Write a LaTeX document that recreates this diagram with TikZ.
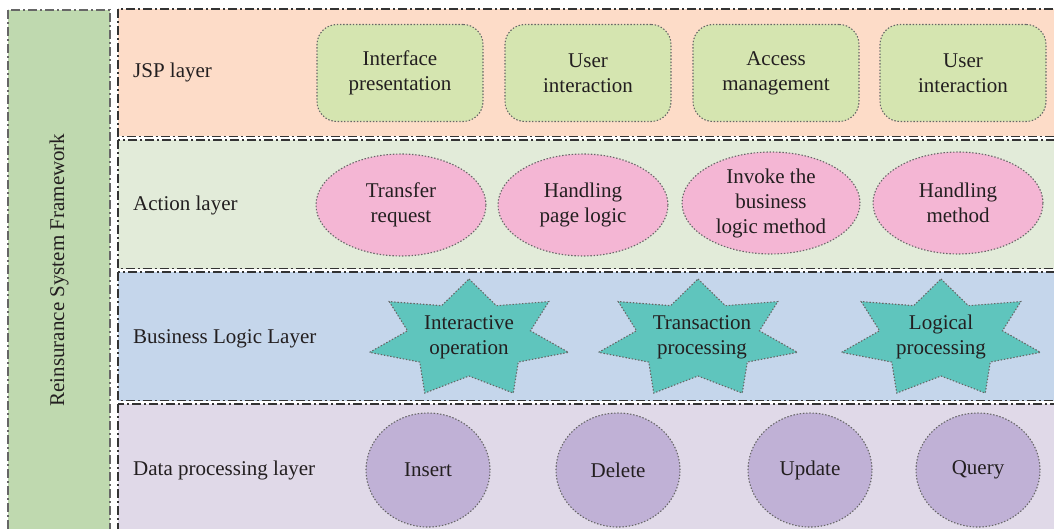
\documentclass[tikz,border=0pt]{standalone}
\usepackage{fontspec}
\setmainfont{Liberation Serif}
\usetikzlibrary{calc}
\definecolor{txt}{HTML}{231F20}
\definecolor{leftbg}{HTML}{BFD9AF}
\definecolor{jspbg}{HTML}{FDDCC8}
\definecolor{actbg}{HTML}{E2EBD9}
\definecolor{busbg}{HTML}{C5D6EB}
\definecolor{datbg}{HTML}{E0D9E8}
\definecolor{jspbox}{HTML}{D5E5B0}
\definecolor{actell}{HTML}{F4B6D4}
\definecolor{busstar}{HTML}{5FC5BD}
\definecolor{datcirc}{HTML}{C0B1D6}
\definecolor{dotgray}{HTML}{666666}
\tikzset{
  every node/.style={text=txt,font=\fontsize{21}{25}\selectfont,inner sep=0pt},
  layerbox/.style={draw=black!80,line width=1.1pt,dash pattern=on 9pt off 3pt on 2pt off 3pt},
  dotline/.style={draw=dotgray,line width=1.1pt,dash pattern=on 1.4pt off 1.8pt},
  jspnode/.style={dotline,fill=jspbox,rounded corners=20pt,minimum width=166pt,minimum height=97pt,align=center},
  actnode/.style={dotline,fill=actell,ellipse,minimum width=170pt,minimum height=102pt,align=center},
  datnode/.style={dotline,fill=datcirc,ellipse,minimum width=124pt,minimum height=114pt,align=center},
  startext/.style={align=center},
  starsty/.style={dotline,fill=busstar},
  layerlabel/.style={anchor=base west}
}
\usetikzlibrary{shapes.geometric}
\newcommand\mystar[1]{%
  \draw[starsty] ($(#1)+(-90:102 and 60)$)
  \foreach \k in {0,...,6}{
    -- ($(#1)+({-90+\k*51.4286+25.7143}:63 and 37)$)
    -- ($(#1)+({-90+(\k+1)*51.4286}:102 and 60)$)
  } -- cycle;}
\begin{document}
\begin{tikzpicture}[x=1pt,y=-1pt]
\useasboundingbox (0,0) rectangle (1054,529);
\clip (0,0) rectangle (1054,529);
% left framework box
\path[layerbox,draw=black!60,fill=leftbg] (8,10) rectangle (110,560);
\node[rotate=90] (frame) at (59,270) {Reinsurance System Framework};
% layer boxes
\path[layerbox,fill=jspbg] (118,9) rectangle (1070,136.5);
\path[layerbox,fill=actbg] (118,140) rectangle (1070,268.5);
\path[layerbox,fill=busbg] (118,272) rectangle (1070,400.5);
\path[layerbox,fill=datbg] (118,404) rectangle (1070,560);
% layer labels
\node[layerlabel] (ljsp) at (133,78) {JSP layer};
\node[layerlabel] (lact) at (133,211) {Action layer};
\node[layerlabel] (lbus) at (133,343) {Business Logic Layer};
\node[layerlabel] (ldat) at (133,475) {Data processing layer};
% JSP layer
\node[jspnode] (j1) at (400,73) {Interface\\presentation};
\node[jspnode] (j2) at (588,73) {User\\interaction};
\node[jspnode] (j3) at (776,73) {Access\\management};
\node[jspnode] (j4) at (963,73) {User\\interaction};
% Action layer
\node[actnode] (a1) at (401,205) {Transfer\\request};
\node[actnode] (a2) at (583,205) {Handling\\page logic};
\node[actnode,minimum width=178pt] (a3) at (771,203) {Invoke the\\business\\logic method};
\node[actnode] (a4) at (958,203) {Handling\\method};
% Business layer
\coordinate (s1c) at (469,339);
\coordinate (s2c) at (698,339);
\coordinate (s3c) at (941,339);
\mystar{s1c}
\mystar{s2c}
\mystar{s3c}
\node[startext] (b1) at (469,337) {Interactive\\operation};
\node[startext] (b2) at (702,337) {Transaction\\processing};
\node[startext] (b3) at (941,337) {Logical\\processing};
% Data layer
\node[datnode] (d1) at (428,470) {Insert};
\node[datnode] (d2) at (618,470) {Delete};
\node[datnode] (d3) at (810,470) {Update};
\node[datnode] (d4) at (978,470) {Query};
\end{tikzpicture}
\end{document}
